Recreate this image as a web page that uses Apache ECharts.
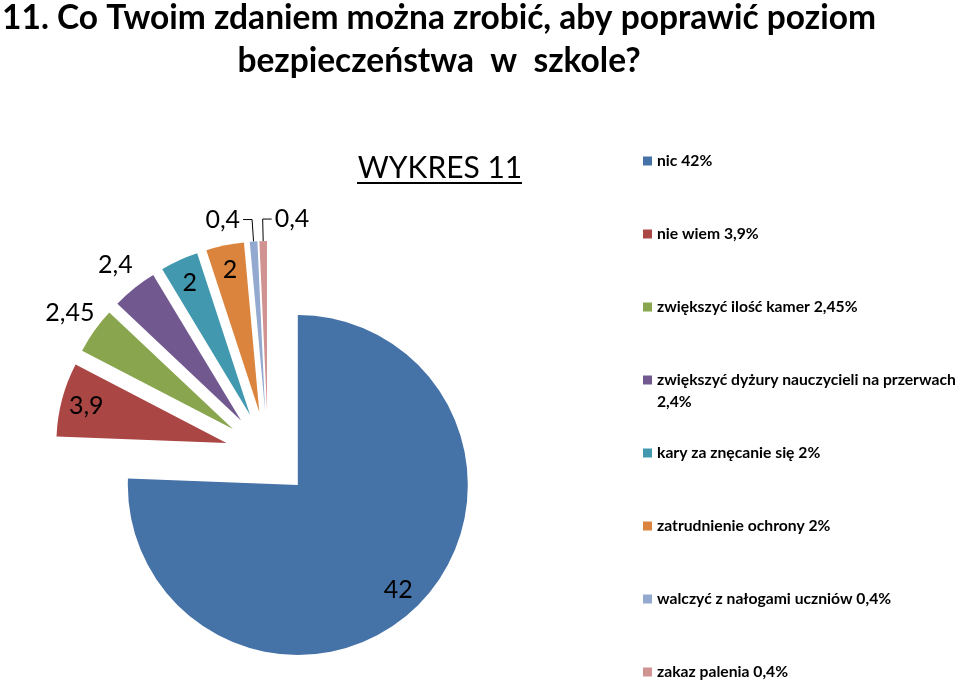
<!DOCTYPE html>
<html><head><meta charset="utf-8">
<script src="https://cdn.jsdelivr.net/npm/echarts/dist/echarts.min.js"></script>
<style>html,body{margin:0;padding:0;background:#fff}#c{width:960px;height:680px}</style>
</head><body><div id="c"></div>
<script>
// ---- data ----
const categories = ['nic', 'nie wiem', 'zwiększyć ilość kamer', 'zwiększyć dyżury nauczycieli na przerwach', 'kary za znęcanie się', 'zatrudnienie ochrony', 'walczyć z nałogami uczniów', 'zakaz palenia'];
const values = [42, 3.9, 2.45, 2.4, 2, 2, 0.4, 0.4];
const colors = ['#4572A7', '#AA4643', '#89A54E', '#71588F', '#4198AF', '#DB843D', '#93A9CF', '#D19392'];
const titleText = '11. Co Twoim zdaniem można zrobić, aby poprawić poziom\nbezpieczeństwa  w  szkole?';
const subTitle = 'WYKRES 11';

// ---- label placement groups ----
const insideLabels = [0, 1, 4, 5];
const outerLabels = [2, 3];
const leaderLabels = [6, 7];
const flipIndex = 7;
const wrapIndex = 3;

const fmt = v => String(v).replace('.', ',');
const FONT = 'Lato';
const CX = 268, CY = 454, R = 170, OFF = 43;
const LEN = 22, LEN2 = 9, DIST = 3;
const LH = 22;

const chart = echarts.init(document.getElementById('c'), null, { renderer: 'canvas' });

const legends = categories.map((name, i) => {
  const c = 161 + i * 73;
  const wrap = i === wrapIndex;
  return {
    orient: 'vertical', left: 643, top: c - (wrap ? 1.5 * LH : 0.5 * LH), padding: 0,
    icon: 'rect', itemWidth: 9, itemHeight: 9, selectedMode: false,
    itemStyle: { borderWidth: 0 },
    data: [name],
    formatter: n => wrap ? ('\n' + n + '\n' + fmt(values[i]) + '%') : (n + ' ' + fmt(values[i]) + '%'),
    textStyle: { fontFamily: FONT, fontWeight: 'bold', fontSize: 15.7, color: '#000', lineHeight: LH }
  };
});

function labelSeries(radius, showSet) {
  return {
    type: 'pie', center: [CX, CY], radius: radius, selectedMode: 'multiple', selectedOffset: OFF,
    avoidLabelOverlap: false, silent: true, animation: false,
    itemStyle: { color: 'rgba(0,0,0,0)', borderWidth: 0 },
    label: { position: 'inside', formatter: p => fmt(p.value), fontFamily: FONT, fontSize: 25, color: '#000' },
    labelLine: { show: false },
    emphasis: { disabled: true },
    data: values.map((v, i) => ({ value: v, name: '', selected: true, label: { show: showSet.includes(i) } }))
  };
}

const option = {
  animation: false,
  backgroundColor: '#fff',
  title: [
    { text: titleText, left: 439, top: -3, textAlign: 'center', padding: 0,
      textStyle: { fontFamily: FONT, fontWeight: 'bold', fontSize: 33.5, lineHeight: 43, color: '#000' } },
    { text: subTitle, left: 440, top: 153, textAlign: 'center', padding: 0,
      textStyle: { fontFamily: FONT, fontWeight: 'normal', fontSize: 30, lineHeight: 30, color: '#000' } }
  ],
  legend: legends,
  graphic: [
    { type: 'line', shape: { x1: 357, y1: 183, x2: 522, y2: 183 }, style: { stroke: '#000', lineWidth: 2 } }
  ],
  series: [
    {
      type: 'pie', center: [CX, CY], radius: R, selectedMode: 'multiple', selectedOffset: OFF,
      avoidLabelOverlap: false, silent: true, animation: false,
      itemStyle: { borderWidth: 0 },
      emphasis: { disabled: true },
      label: { position: 'outside', formatter: p => fmt(p.value), fontFamily: FONT, fontSize: 25, color: '#000' },
      labelLine: { length: LEN, length2: LEN2, smooth: false, lineStyle: { color: '#000', width: 1 } },
      labelLayout: p => {
        if (p.dataIndex === flipIndex && p.labelLinePoints) {
          const pts = p.labelLinePoints;
          return { labelLinePoints: [pts[0], pts[1], [pts[1][0] + LEN2, pts[1][1]]], align: 'left' };
        }
      },
      data: categories.map((name, i) => ({
        name, value: values[i], selected: true,
        itemStyle: { color: colors[i] },
        select: { itemStyle: { color: colors[i], borderWidth: 0 } },
        label: { show: leaderLabels.includes(i), distanceToLabelLine: i === flipIndex ? -(2 * LEN2 + DIST) : DIST },
        labelLine: { show: leaderLabels.includes(i) }
      }))
    },
    labelSeries(284, insideLabels),
    labelSeries(394, outerLabels)
  ]
};
chart.setOption(option);
</script>
</body></html>
